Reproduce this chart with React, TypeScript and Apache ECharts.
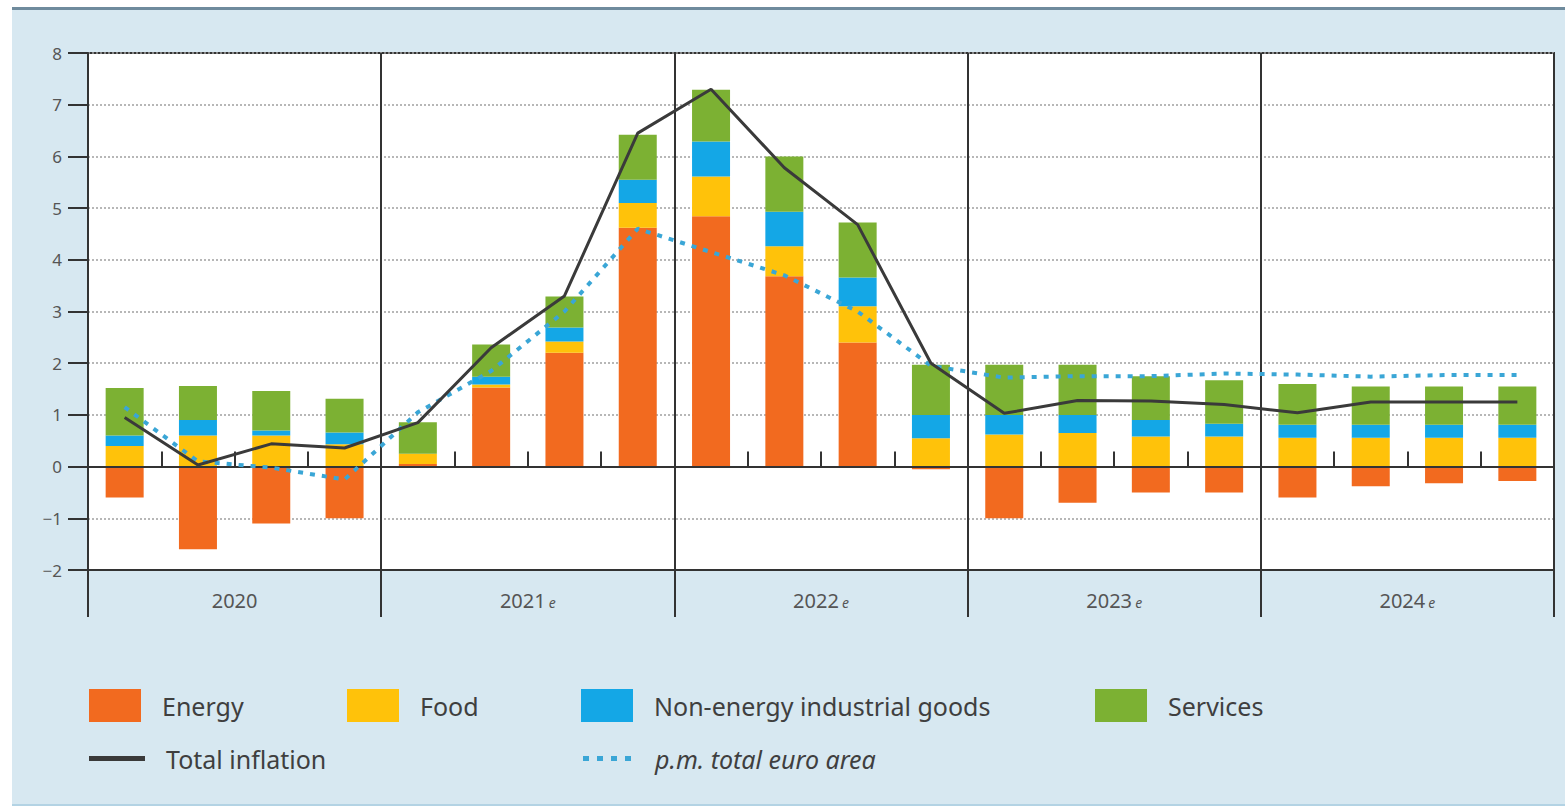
import React, { useEffect, useRef } from "react";
import * as echarts from "echarts";

const quarters = [
  "Q1 2020", "Q2 2020", "Q3 2020", "Q4 2020",
  "Q1 2021", "Q2 2021", "Q3 2021", "Q4 2021",
  "Q1 2022", "Q2 2022", "Q3 2022", "Q4 2022",
  "Q1 2023", "Q2 2023", "Q3 2023", "Q4 2023",
  "Q1 2024", "Q2 2024", "Q3 2024", "Q4 2024",
];
const years = ["2020", "2021", "2022", "2023", "2024"];
const yearIsEstimate = [false, true, true, true, true];

const energy = [-0.6, -1.6, -1.1, -1.0, 0.05, 1.53, 2.2, 4.62, 4.84, 3.68, 2.4, -0.05, -1.0, -0.7, -0.5, -0.5, -0.6, -0.38, -0.32, -0.28];
const food = [0.4, 0.6, 0.6, 0.43, 0.2, 0.06, 0.22, 0.48, 0.77, 0.58, 0.7, 0.55, 0.62, 0.65, 0.58, 0.58, 0.56, 0.56, 0.56, 0.56];
const nonEnergyGoods = [0.2, 0.3, 0.1, 0.23, 0.0, 0.15, 0.27, 0.45, 0.68, 0.67, 0.56, 0.45, 0.38, 0.35, 0.32, 0.25, 0.25, 0.25, 0.25, 0.25];
const services = [0.92, 0.66, 0.76, 0.65, 0.61, 0.62, 0.6, 0.87, 1.0, 1.07, 1.06, 0.97, 0.97, 0.97, 0.85, 0.84, 0.79, 0.74, 0.74, 0.74];
const totalInflation = [0.95, 0.03, 0.44, 0.36, 0.85, 2.3, 3.3, 6.45, 7.3, 5.78, 4.68, 2.0, 1.03, 1.28, 1.27, 1.2, 1.04, 1.25, 1.25, 1.25];
const euroAreaTotal = [1.15, 0.1, -0.02, -0.25, 1.05, 1.85, 3.0, 4.6, 4.15, 3.7, 3.0, 1.95, 1.72, 1.75, 1.75, 1.8, 1.78, 1.74, 1.77, 1.77];

const yMin = -2;
const yMax = 8;
const yInterval = 1;

const C_ENERGY = "#f26a1f";
const C_FOOD = "#ffc20a";
const C_NEIG = "#14a7e6";
const C_SERV = "#7cb133";
const C_TOTAL = "#3a3a3a";
const C_EURO = "#3aa6d6";
const AXIS = "#333333";
const FONT = "'Noto Sans', 'Open Sans', sans-serif";

export default function App() {
  const ref = useRef<HTMLDivElement>(null);

  useEffect(() => {
    if (!ref.current) return;
    const chart = echarts.init(ref.current, undefined, { renderer: "svg" });

    const legendText = { fontSize: 25, color: "#3f3f3f", fontFamily: FONT, padding: [0, 0, 0, 16] };
    const mkLegend = (name: string, left: number, top: number, w: number, h: number, icon: string, extraText: any = {}) => ({
      data: [{ name, icon }],
      left,
      top,
      orient: "horizontal",
      itemWidth: w,
      itemHeight: h,
      textStyle: { ...legendText, ...extraText },
      selectedMode: false,
    });

    const dotsIcon = "path://M0,0h6v5h-6z M14,0h6v5h-6z M28,0h6v5h-6z M42,0h6v5h-6z";

    const option: any = {
      animation: false,
      textStyle: { fontFamily: FONT },
      grid: {
        left: 88,
        top: 53,
        right: 11,
        bottom: 236,
        show: true,
        backgroundColor: "#ffffff",
        borderColor: AXIS,
        borderWidth: 2,
      },
      legend: [
        mkLegend("Energy", 84, 684, 52, 33, "rect"),
        mkLegend("Food", 342, 684, 52, 33, "rect"),
        mkLegend("Non-energy industrial goods", 576, 684, 52, 33, "rect"),
        mkLegend("Services", 1090, 684, 52, 33, "rect"),
        mkLegend("Total inflation", 84, 741, 56, 5, "rect"),
        mkLegend("p.m. total euro area", 578, 741, 50, 5, dotsIcon, { fontStyle: "italic", padding: [0, 0, 0, 18] }),
      ],
      xAxis: [
        {
          type: "category",
          data: quarters,
          boundaryGap: true,
          axisLine: { onZero: true, lineStyle: { color: AXIS, width: 2 } },
          axisTick: { show: true, inside: true, length: 15, interval: 0, lineStyle: { color: AXIS, width: 2 } },
          axisLabel: { show: false },
          splitLine: { show: false },
          z: 5,
        },
        {
          type: "category",
          data: years,
          position: "bottom",
          boundaryGap: true,
          axisLine: { onZero: false, show: true, lineStyle: { color: AXIS, width: 2 } },
          axisTick: { show: true, length: 47, interval: 0, lineStyle: { color: AXIS, width: 2 } },
          splitLine: { show: true, interval: 0, lineStyle: { color: AXIS, width: 2 } },
          axisLabel: {
            margin: 20,
            interval: 0,
            formatter: (v: string, i: number) => (yearIsEstimate[i] ? `{y|${v}} {e|e}` : `{y|${v}}`),
            rich: {
              y: { fontSize: 20, color: "#555555", fontFamily: FONT },
              e: { fontSize: 14, color: "#555555", fontFamily: FONT, fontStyle: "italic", padding: [5, 0, 0, 0] },
            },
          },
        },
      ],
      yAxis: {
        type: "value",
        min: yMin,
        max: yMax,
        interval: yInterval,
        axisLine: { show: true, lineStyle: { color: AXIS, width: 2 } },
        axisTick: { show: true, length: 20, lineStyle: { color: AXIS, width: 2 } },
        axisLabel: {
          margin: 26,
          fontSize: 17,
          color: "#555555",
          fontFamily: FONT,
          formatter: (v: number) => (v < 0 ? "\u2212" + Math.abs(v) : String(v)),
        },
        splitLine: { show: true, lineStyle: { color: "#a0a0a0", width: 1.5, type: [2, 2] } },
      },
      series: [
        { name: "Energy", type: "bar", stack: "c", data: energy, barWidth: 38, itemStyle: { color: C_ENERGY } },
        { name: "Food", type: "bar", stack: "c", data: food, barWidth: 38, itemStyle: { color: C_FOOD } },
        { name: "Non-energy industrial goods", type: "bar", stack: "c", data: nonEnergyGoods, barWidth: 38, itemStyle: { color: C_NEIG } },
        { name: "Services", type: "bar", stack: "c", data: services, barWidth: 38, itemStyle: { color: C_SERV } },
        {
          name: "p.m. total euro area",
          type: "line",
          data: euroAreaTotal,
          symbol: "none",
          z: 8,
          lineStyle: { color: C_EURO, width: 4, type: [5, 7] },
          itemStyle: { color: C_EURO },
        },
        {
          name: "Total inflation",
          type: "line",
          data: totalInflation,
          symbol: "none",
          z: 9,
          lineStyle: { color: C_TOTAL, width: 3 },
          itemStyle: { color: C_TOTAL },
        },
      ],
    };

    chart.setOption(option);
    return () => chart.dispose();
  }, []);

  return (
    <div style={{ position: "fixed", left: 0, top: 0, width: 1565, height: 806, background: "#ffffff" }}>
      <div
        style={{
          position: "absolute",
          left: 12,
          top: 7,
          width: 1553,
          height: 794,
          background: "#d7e8f1",
          borderTop: "3px solid #6f8b9d",
          borderBottom: "2px solid #b3d3e4",
        }}
      />
      <div ref={ref} style={{ position: "absolute", left: 0, top: 0, width: 1565, height: 806 }} />
    </div>
  );
}
